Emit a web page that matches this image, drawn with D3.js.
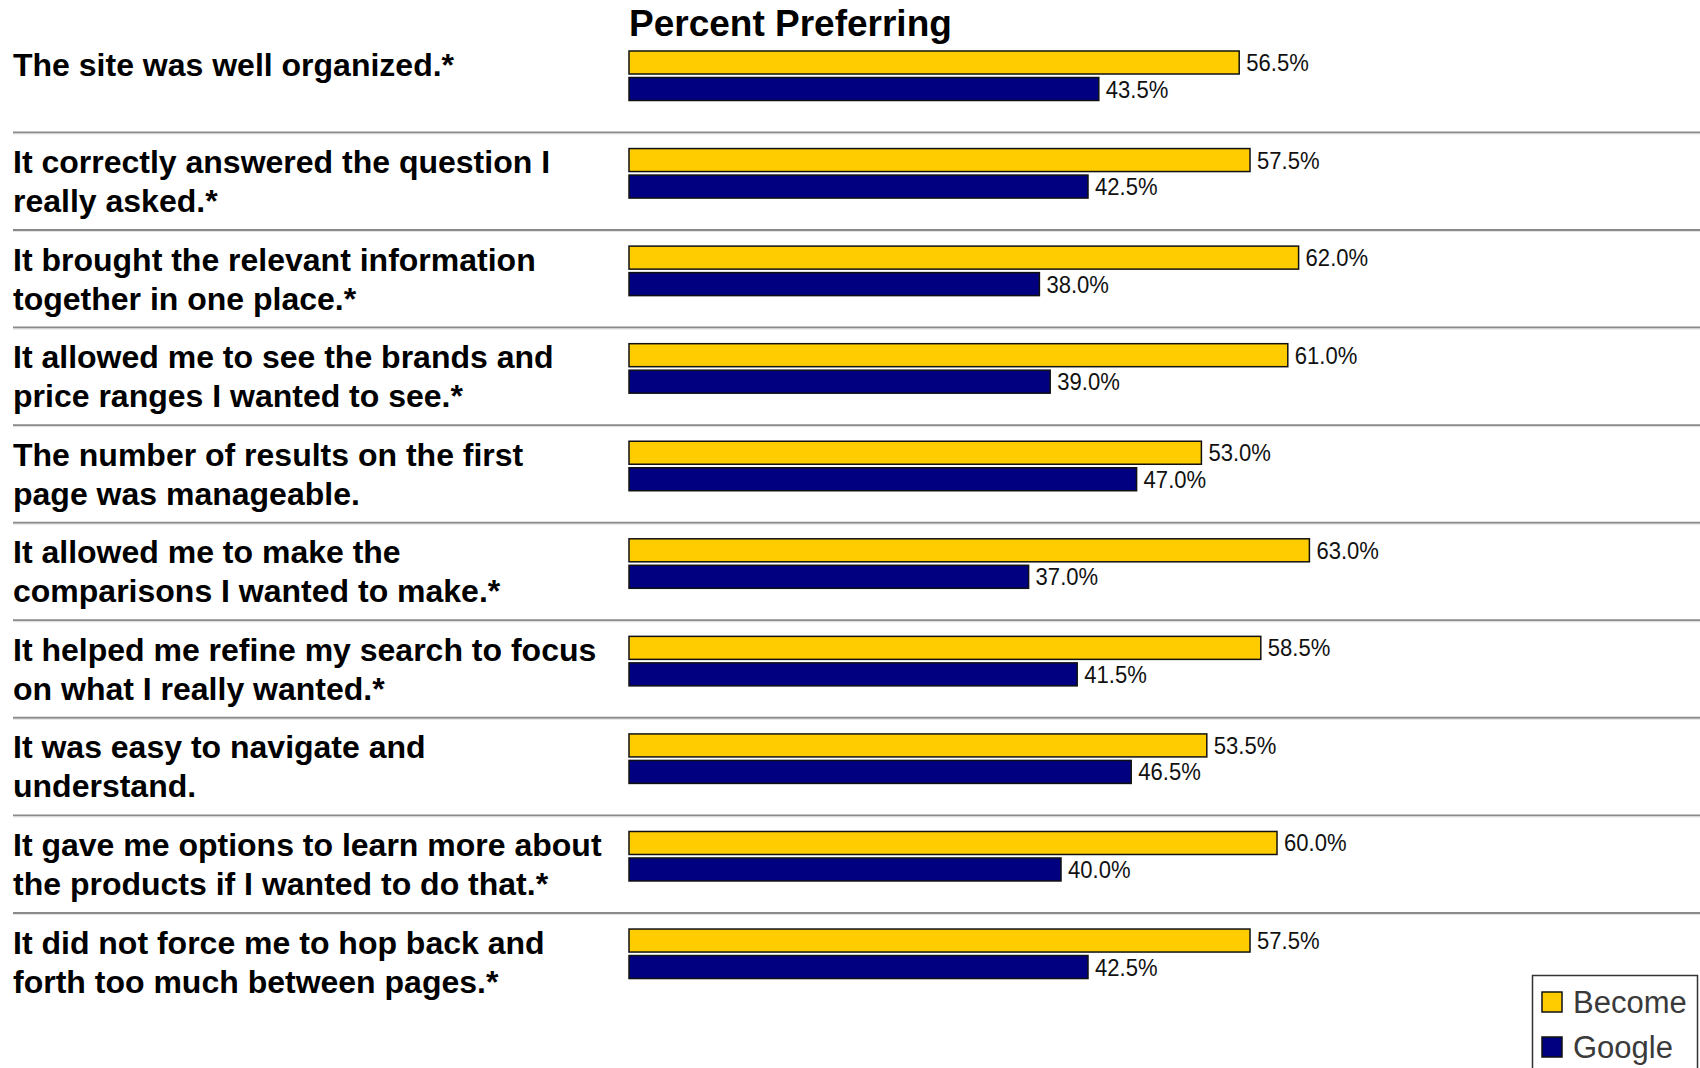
<!DOCTYPE html>
<html>
<head>
<meta charset="utf-8">
<script src="https://cdn.jsdelivr.net/npm/d3@7"></script>
<style>
  body { margin: 0; background: #fff; }
  svg { display: block; font-family: "Liberation Sans", Arial, sans-serif; }
</style>
</head>
<body>
<div id="chart"></div>
<script>
const questions = [
  ["The site was well organized.*"],
  ["It correctly answered the question I", "really asked.*"],
  ["It brought the relevant information", "together in one place.*"],
  ["It allowed me to see the brands and", "price ranges I wanted to see.*"],
  ["The number of results on the first", "page was manageable."],
  ["It allowed me to make the", "comparisons I wanted to make.*"],
  ["It helped me refine my search to focus", "on what I really wanted.*"],
  ["It was easy to navigate and", "understand."],
  ["It gave me options to learn more about", "the products if I wanted to do that.*"],
  ["It did not force me to hop back and", "forth too much between pages.*"]
];
const become = [56.5, 57.5, 62.0, 61.0, 53.0, 63.0, 58.5, 53.5, 60.0, 57.5];
const google = [43.5, 42.5, 38.0, 39.0, 47.0, 37.0, 41.5, 46.5, 40.0, 42.5];
const seriesNames = ["Become", "Google"];
const seriesColors = ["#ffcc00", "#000080"];

const width = 1700, height = 1068;
const barH = 23, barGap = 3.5;

const svg = d3.select("#chart").append("svg")
  .attr("width", width)
  .attr("height", height);

const x = d3.scaleLinear().domain([0, 100]).range([629, 1709]);
const y = d3.scaleBand()
  .domain(d3.range(questions.length))
  .range([51, 51 + 97.56 * questions.length]);

// title
svg.append("text")
  .attr("x", 629)
  .attr("y", 36)
  .attr("font-size", 37)
  .attr("font-weight", "bold")
  .text("Percent Preferring");

// separators
const seps = svg.append("g");
d3.range(questions.length - 1).forEach(i => {
  const sy = y(i) + 81.5;
  seps.append("line")
    .attr("x1", 13).attr("x2", width)
    .attr("y1", sy).attr("y2", sy)
    .attr("stroke", "#8a8a8a").attr("stroke-width", 2);
  seps.append("line")
    .attr("x1", 13).attr("x2", width)
    .attr("y1", sy + 1.5).attr("y2", sy + 1.5)
    .attr("stroke", "#e4e4e4").attr("stroke-width", 1);
});

// question labels
const labels = svg.append("g")
  .selectAll("text")
  .data(questions)
  .join("text")
  .attr("font-size", 32)
  .attr("font-weight", "bold")
  .attr("fill", "#000");
labels.selectAll("tspan")
  .data((d, i) => d.map(line => ({ line, i })))
  .join("tspan")
  .attr("x", 13)
  .attr("y", (d, j) => y(d.i) + 24.5 + j * 39)
  .text(d => d.line);

// bars
const series = [become, google];
series.forEach((vals, s) => {
  const g = svg.append("g");
  g.selectAll("rect")
    .data(vals)
    .join("rect")
    .attr("x", x(0))
    .attr("y", (d, i) => y(i) + s * (barH + barGap))
    .attr("width", d => x(d) - x(0))
    .attr("height", barH)
    .attr("fill", seriesColors[s])
    .attr("stroke", "#111")
    .attr("stroke-width", 1.5);
  g.selectAll("text")
    .data(vals)
    .join("text")
    .attr("transform", (d, i) =>
      `translate(${x(d) + 7},${y(i) + s * (barH + barGap) + 20}) scale(0.92,1)`)
    .attr("font-size", 24)
    .attr("fill", "#111")
    .text(d => d.toFixed(1) + "%");
});

// legend
const legend = svg.append("g");
legend.append("rect")
  .attr("x", 1532.5).attr("y", 975.5)
  .attr("width", 165).attr("height", 110)
  .attr("fill", "#fff")
  .attr("stroke", "#333")
  .attr("stroke-width", 1.5);
seriesNames.forEach((name, i) => {
  legend.append("rect")
    .attr("x", 1542).attr("y", 992 + i * 45)
    .attr("width", 20).attr("height", 20)
    .attr("fill", seriesColors[i])
    .attr("stroke", "#111").attr("stroke-width", 1.5);
  legend.append("text")
    .attr("x", 1573).attr("y", 1013 + i * 45)
    .attr("font-size", 31)
    .attr("fill", "#3a3a3a")
    .text(name);
});
</script>
</body>
</html>
